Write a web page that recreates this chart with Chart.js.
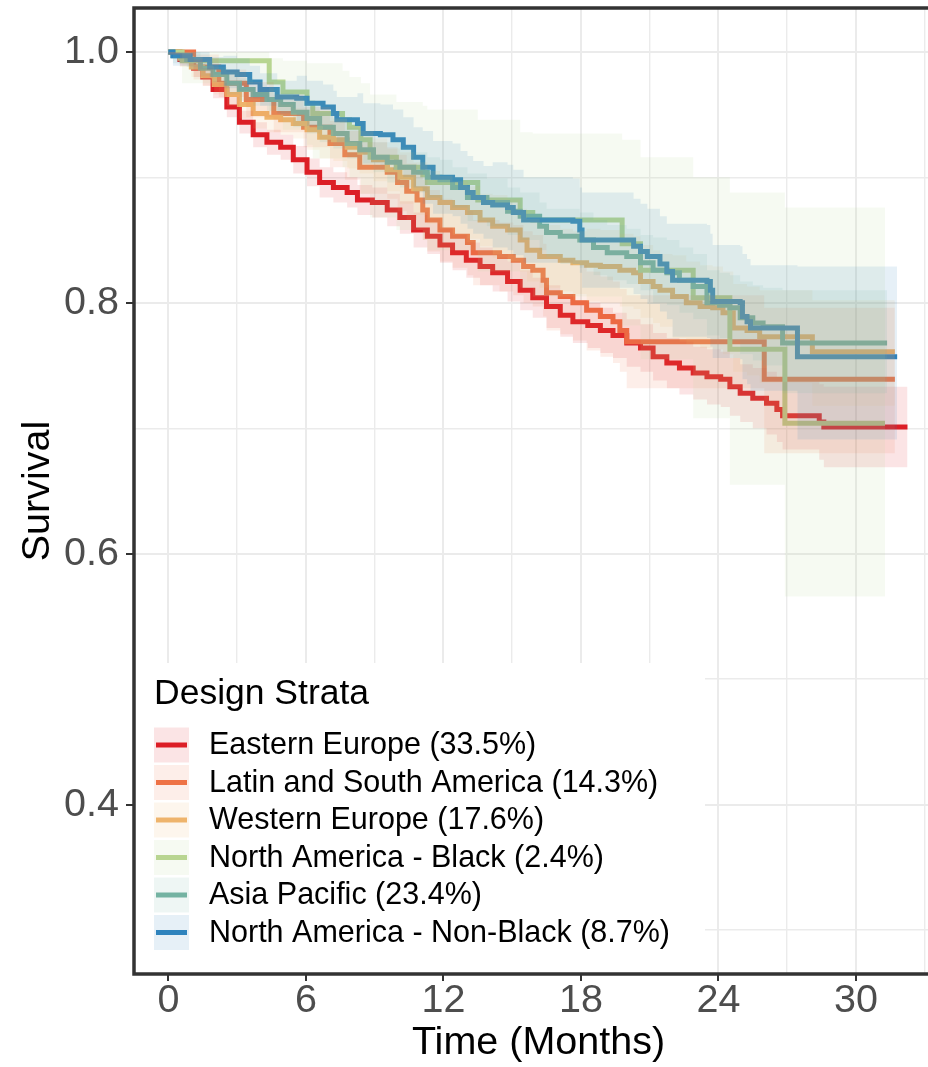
<!DOCTYPE html>
<html lang="en">
<head>
    <meta charset="UTF-8">
    <title>Survival by Design Strata</title>
    <script src="https://cdn.jsdelivr.net/npm/chart.js"></script>
    <style>
        html, body { margin: 0; padding: 0; background: #fff; overflow: hidden; }
        .wrap { width: 928px; height: 1067px; overflow: hidden; }
    </style>
</head>
<body>
    <div class="wrap">
        <canvas id="kmChart" width="943" height="1067"></canvas>
    </div>

    <script>
        // legend labels
        const strataNames = ['Eastern Europe', 'Latin and South America', 'Western Europe',
            'North America - Black', 'Asia Pacific', 'North America - Non-Black'];
        const strataShares = ['33.5', '14.3', '17.6', '2.4', '23.4', '8.7'];

        // axis ticks (labelled) and grid positions
        const xTicks = [0, 6, 12, 18, 24, 30];
        const xGrid = [0, 3, 6, 9, 12, 15, 18, 21, 24, 27, 30, 33];
        const yTicks = [0.4, 0.6, 0.8, 1.0];
        const yGrid = [0.3, 0.4, 0.5, 0.6, 0.7, 0.8, 0.9, 1.0];

        // Eastern Europe: time, survival, lower / upper confidence limits
        const eeT = [0, 0.5, 1.1, 1.5, 1.95, 2.55, 3.1, 3.7, 4.3, 4.9, 5.45, 6.05, 6.6, 7.2, 7.8, 8.25, 8.9, 9.55, 10.1, 10.7,
            11.3, 11.85, 12.4, 13.0, 13.6, 14.15, 14.8, 15.35, 15.9, 16.5, 17.1, 17.65, 18.3, 18.85, 19.4, 20.0, 20.6, 21.15,
            21.75, 22.3, 22.9, 23.5, 24.1, 24.5, 24.95, 25.5, 26.1, 26.55, 26.8, 28.4, 28.6, 32.25];
        const eeS = [1, 0.994, 0.987, 0.98, 0.97, 0.956, 0.944, 0.934, 0.928, 0.924, 0.914, 0.904, 0.896, 0.892, 0.888, 0.882,
            0.88, 0.874, 0.868, 0.858, 0.853, 0.846, 0.84, 0.834, 0.829, 0.824, 0.817, 0.81, 0.804, 0.797, 0.79, 0.785, 0.782,
            0.778, 0.774, 0.768, 0.764, 0.757, 0.752, 0.748, 0.744, 0.741, 0.739, 0.733, 0.728, 0.724, 0.72, 0.715, 0.71,
            0.705, 0.701, 0.701];
        const eeLow = [0.998, 0.989, 0.980, 0.973, 0.963, 0.948, 0.935, 0.924, 0.918, 0.914, 0.903, 0.893, 0.884, 0.880, 0.876,
            0.870, 0.868, 0.861, 0.855, 0.844, 0.839, 0.832, 0.826, 0.820, 0.814, 0.809, 0.801, 0.794, 0.788, 0.780, 0.773,
            0.768, 0.764, 0.760, 0.756, 0.749, 0.745, 0.738, 0.732, 0.727, 0.723, 0.719, 0.717, 0.710, 0.705, 0.700, 0.695,
            0.689, 0.683, 0.675, 0.669, 0.669];
        const eeHigh = [1, 0.999, 0.994, 0.987, 0.977, 0.964, 0.953, 0.944, 0.938, 0.934, 0.925, 0.915, 0.908, 0.904, 0.900,
            0.894, 0.892, 0.887, 0.881, 0.872, 0.867, 0.860, 0.854, 0.848, 0.844, 0.839, 0.833, 0.826, 0.820, 0.814, 0.807,
            0.802, 0.800, 0.796, 0.792, 0.787, 0.783, 0.776, 0.772, 0.769, 0.765, 0.763, 0.761, 0.756, 0.751, 0.748, 0.745,
            0.741, 0.737, 0.735, 0.733, 0.733];

        // Latin and South America
        const lsT = [0, 1.1, 2.2, 3.4, 4.6, 5.9, 7.05, 7.7, 8.35, 9.55, 10.0, 10.4, 10.85, 11.1, 11.3, 11.85, 12.4, 13.05, 13.3,
            14.45, 15.05, 15.5, 15.9, 16.35, 16.5, 17.1, 17.65, 18.25, 18.85, 19.4, 19.7, 20.0, 26.0, 31.7];
        const lsS = [1, 0.988, 0.975, 0.962, 0.951, 0.94, 0.927, 0.918, 0.908, 0.904, 0.896, 0.889, 0.882, 0.874, 0.866, 0.858,
            0.853, 0.848, 0.84, 0.837, 0.834, 0.829, 0.826, 0.818, 0.808, 0.805, 0.8, 0.794, 0.789, 0.785, 0.778, 0.769, 0.739, 0.739];
        const lsLow = [0.998, 0.978, 0.964, 0.948, 0.936, 0.924, 0.908, 0.898, 0.887, 0.883, 0.873, 0.866, 0.858, 0.850, 0.841,
            0.833, 0.828, 0.822, 0.814, 0.809, 0.806, 0.800, 0.797, 0.789, 0.778, 0.775, 0.770, 0.762, 0.757, 0.752, 0.745,
            0.732, 0.680, 0.680];
        const lsHigh = [1, 0.998, 0.986, 0.976, 0.966, 0.956, 0.945, 0.937, 0.928, 0.924, 0.918, 0.911, 0.905, 0.898, 0.890,
            0.883, 0.878, 0.873, 0.866, 0.864, 0.862, 0.857, 0.854, 0.847, 0.837, 0.834, 0.830, 0.825, 0.821, 0.817, 0.811,
            0.806, 0.796, 0.796];

        // Western Europe
        const weT = [0, 0.5, 1.0, 1.5, 2.0, 2.55, 3.1, 3.7, 4.3, 4.9, 5.45, 6.05, 6.6, 7.2, 7.8, 8.35, 8.95, 9.55, 10.1, 10.7,
            11.3, 11.85, 12.4, 13.05, 13.6, 14.15, 14.8, 15.35, 15.65, 16.2, 17.1, 17.65, 18.25, 18.85, 19.7, 20.3, 20.6, 21.15,
            21.45, 22.0, 22.6, 23.2, 23.75, 24.2, 24.65, 25.25, 25.8, 28.1, 31.7];
        const weS = [1, 0.995, 0.988, 0.981, 0.974, 0.966, 0.958, 0.951, 0.948, 0.946, 0.943, 0.938, 0.932, 0.93, 0.924, 0.92,
            0.914, 0.906, 0.9, 0.891, 0.884, 0.88, 0.876, 0.872, 0.866, 0.861, 0.858, 0.85, 0.842, 0.837, 0.834, 0.832, 0.83,
            0.829, 0.826, 0.824, 0.817, 0.813, 0.81, 0.805, 0.8, 0.797, 0.796, 0.792, 0.78, 0.778, 0.773, 0.761, 0.761];
        const weLow = [0.998, 0.988, 0.980, 0.973, 0.966, 0.957, 0.947, 0.939, 0.936, 0.934, 0.931, 0.922, 0.915, 0.913, 0.907,
            0.903, 0.897, 0.889, 0.879, 0.870, 0.863, 0.859, 0.855, 0.851, 0.845, 0.836, 0.833, 0.825, 0.817, 0.812, 0.809,
            0.807, 0.801, 0.800, 0.797, 0.795, 0.788, 0.784, 0.781, 0.772, 0.767, 0.764, 0.763, 0.759, 0.745, 0.742, 0.736,
            0.718, 0.718];
        const weHigh = [1, 1, 0.996, 0.989, 0.982, 0.975, 0.969, 0.963, 0.960, 0.958, 0.955, 0.954, 0.949, 0.947, 0.941, 0.937,
            0.931, 0.923, 0.920, 0.912, 0.905, 0.901, 0.897, 0.893, 0.887, 0.886, 0.883, 0.875, 0.867, 0.862, 0.859, 0.857,
            0.859, 0.858, 0.855, 0.853, 0.846, 0.842, 0.839, 0.838, 0.833, 0.830, 0.829, 0.825, 0.815, 0.813, 0.810, 0.802, 0.802];

        // North America - Black
        const nbT = [0, 0.6, 4.4, 5.0, 6.05, 6.3, 7.6, 7.9, 8.4, 8.8, 9.95, 11.1, 11.3, 13.5, 15.35, 15.9, 19.8, 20.6, 22.9,
            24.5, 26.9, 31.27];
        const nbS = [1, 0.993, 0.976, 0.968, 0.959, 0.951, 0.946, 0.94, 0.93, 0.916, 0.908, 0.902, 0.896, 0.882, 0.872, 0.866,
            0.847, 0.826, 0.804, 0.763, 0.704, 0.704];
        const nbLow = [1, 0.975, 0.950, 0.938, 0.926, 0.915, 0.908, 0.900, 0.887, 0.868, 0.858, 0.850, 0.842, 0.825, 0.812,
            0.805, 0.782, 0.755, 0.708, 0.655, 0.566, 0.566];
        const nbHigh = [1, 1, 0.995, 0.993, 0.991, 0.991, 0.985, 0.980, 0.975, 0.966, 0.960, 0.957, 0.954, 0.946, 0.936,
            0.935, 0.930, 0.916, 0.900, 0.888, 0.876, 0.876];

        // Asia Pacific
        const apT = [0, 0.2, 0.8, 1.4, 1.95, 2.55, 3.1, 3.7, 4.3, 4.9, 5.45, 6.05, 6.6, 7.2, 7.8, 8.35, 8.95, 9.55, 10.1, 10.7,
            11.3, 11.85, 12.4, 13.05, 13.9, 14.8, 15.35, 16.2, 16.5, 17.1, 17.95, 18.55, 19.15, 20.0, 20.6, 21.15, 21.75, 22.3,
            22.9, 23.5, 24.05, 24.5, 24.95, 25.5, 25.95, 26.8, 31.36];
        const apS = [1, 0.997, 0.994, 0.987, 0.982, 0.975, 0.97, 0.966, 0.962, 0.958, 0.952, 0.947, 0.94, 0.935, 0.927, 0.922,
            0.916, 0.912, 0.908, 0.904, 0.9, 0.898, 0.892, 0.884, 0.88, 0.873, 0.869, 0.861, 0.856, 0.853, 0.85, 0.844, 0.84,
            0.837, 0.832, 0.826, 0.824, 0.818, 0.813, 0.8, 0.798, 0.796, 0.788, 0.784, 0.781, 0.768, 0.768];
        const apLow = [0.998, 0.991, 0.988, 0.981, 0.976, 0.966, 0.961, 0.957, 0.953, 0.949, 0.940, 0.935, 0.928, 0.923, 0.915,
            0.910, 0.904, 0.896, 0.892, 0.888, 0.884, 0.882, 0.876, 0.865, 0.861, 0.854, 0.850, 0.842, 0.837, 0.831, 0.828,
            0.822, 0.818, 0.815, 0.810, 0.800, 0.798, 0.792, 0.787, 0.774, 0.772, 0.770, 0.759, 0.754, 0.750, 0.728, 0.728];
        const apHigh = [1, 1, 1, 0.993, 0.988, 0.984, 0.979, 0.975, 0.971, 0.967, 0.964, 0.959, 0.952, 0.947, 0.939, 0.934,
            0.928, 0.928, 0.924, 0.920, 0.916, 0.914, 0.908, 0.903, 0.899, 0.892, 0.888, 0.880, 0.875, 0.875, 0.872, 0.866,
            0.862, 0.859, 0.854, 0.852, 0.850, 0.844, 0.839, 0.826, 0.824, 0.822, 0.817, 0.814, 0.812, 0.810, 0.810];

        // North America - Non-Black
        const nnT = [0, 0.2, 0.95, 1.8, 2.4, 3.0, 3.55, 4.0, 4.75, 5.6, 6.05, 6.75, 7.2, 7.35, 8.25, 8.5, 9.25, 9.8, 10.25, 10.7,
            11.1, 11.55, 12.4, 12.75, 13.05, 13.3, 13.75, 14.15, 14.8, 15.05, 15.5, 17.65, 17.95, 18.05, 20.3, 20.6, 20.9, 21.45,
            21.75, 22.0, 23.5, 23.65, 23.75, 24.95, 25.05, 25.25, 25.4, 27.45, 31.8];
        const nnS = [1, 0.997, 0.994, 0.988, 0.984, 0.982, 0.976, 0.97, 0.964, 0.963, 0.959, 0.956, 0.951, 0.946, 0.943, 0.935,
            0.934, 0.93, 0.924, 0.916, 0.908, 0.9, 0.898, 0.892, 0.888, 0.884, 0.88, 0.878, 0.876, 0.872, 0.866, 0.865, 0.858,
            0.85, 0.845, 0.841, 0.837, 0.831, 0.825, 0.818, 0.817, 0.81, 0.801, 0.8, 0.789, 0.785, 0.78, 0.757, 0.757];
        const nnLow = [0.998, 0.989, 0.986, 0.980, 0.971, 0.969, 0.963, 0.957, 0.951, 0.945, 0.941, 0.938, 0.933, 0.928, 0.919,
            0.911, 0.910, 0.906, 0.900, 0.892, 0.879, 0.871, 0.869, 0.863, 0.859, 0.855, 0.851, 0.844, 0.842, 0.838, 0.832,
            0.831, 0.824, 0.812, 0.807, 0.803, 0.799, 0.793, 0.787, 0.773, 0.772, 0.765, 0.756, 0.755, 0.739, 0.735, 0.730,
            0.691, 0.691];
        const nnHigh = [1, 1, 1, 0.996, 0.997, 0.995, 0.989, 0.983, 0.977, 0.981, 0.977, 0.974, 0.969, 0.964, 0.967, 0.959,
            0.958, 0.954, 0.948, 0.940, 0.937, 0.929, 0.927, 0.921, 0.917, 0.913, 0.909, 0.912, 0.910, 0.906, 0.900, 0.899,
            0.892, 0.888, 0.883, 0.879, 0.875, 0.869, 0.863, 0.863, 0.862, 0.855, 0.846, 0.845, 0.839, 0.835, 0.830, 0.829, 0.829];

        const lineColors = ['rgb(220,30,38)', 'rgb(238,114,70)', 'rgb(238,180,108)', 'rgb(184,213,145)', 'rgb(116,179,162)', 'rgb(46,131,189)'];
        const bandColors = lineColors.map(c => c.replace('rgb', 'rgba').replace(')', ',0.12)'));

        const series = [
            { t: eeT, s: eeS, lo: eeLow, hi: eeHigh },
            { t: lsT, s: lsS, lo: lsLow, hi: lsHigh },
            { t: weT, s: weS, lo: weLow, hi: weHigh },
            { t: nbT, s: nbS, lo: nbLow, hi: nbHigh },
            { t: apT, s: apS, lo: apLow, hi: apHigh },
            { t: nnT, s: nnS, lo: nnLow, hi: nnHigh }
        ];

        const pts = (xs, ys) => xs.map((x, k) => ({ x: x, y: ys[k] }));

        const datasets = [];
        // survival curves first, ribbons after (ribbons are drawn over the lines)
        series.forEach((s, i) => {
            datasets.push({
                label: strataNames[i],
                data: pts(s.t, s.s),
                stepped: 'before',
                borderColor: lineColors[i],
                borderWidth: 5,
                borderCapStyle: 'butt',
                fill: false,
                order: 20 - i
            });
        });
        series.forEach((s, i) => {
            datasets.push({
                label: strataNames[i] + ' lower',
                data: pts(s.t, s.lo),
                stepped: 'before',
                borderWidth: 0,
                borderColor: 'rgba(0,0,0,0)',
                fill: false,
                order: 10 - i
            });
            datasets.push({
                label: strataNames[i] + ' upper',
                data: pts(s.t, s.hi),
                stepped: 'before',
                borderWidth: 0,
                borderColor: 'rgba(0,0,0,0)',
                backgroundColor: bandColors[i],
                fill: '-1',
                order: 10 - i
            });
        });

        const FONT = '"Liberation Sans", Arial, sans-serif';
        Chart.defaults.font.family = FONT;

        // legend box drawn inside the panel, and the panel border
        const strataLegend = {
            id: 'strataLegend',
            beforeDatasetsDraw(chart) {
                const { ctx, chartArea } = chart;
                ctx.save();
                ctx.fillStyle = '#ffffff';
                ctx.fillRect(chartArea.left, 663, 705 - chartArea.left, chartArea.bottom - 663);
                ctx.textBaseline = 'middle';
                ctx.textAlign = 'left';
                ctx.fillStyle = '#000000';
                ctx.font = '35.5px ' + FONT;
                ctx.fillText('Design Strata', 154, 694);
                ctx.font = '30.5px ' + FONT;
                strataNames.forEach((name, i) => {
                    const cy = 745 + i * 37.5;
                    ctx.fillStyle = bandColors[i];
                    ctx.fillRect(154, cy - 17.5, 35, 35);
                    ctx.strokeStyle = lineColors[i];
                    ctx.lineWidth = 5;
                    ctx.beginPath();
                    ctx.moveTo(156, cy);
                    ctx.lineTo(187, cy);
                    ctx.stroke();
                    ctx.fillStyle = '#000000';
                    ctx.fillText(name + ' (' + strataShares[i] + '%)', 209, cy + 1);
                });
                ctx.restore();
            },
            afterDraw(chart) {
                const { ctx, chartArea: a } = chart;
                ctx.save();
                ctx.strokeStyle = '#333333';
                ctx.lineWidth = 3.5;
                ctx.strokeRect(a.left, a.top, a.right - a.left, a.bottom - a.top);
                ctx.restore();
            }
        };

        new Chart(document.getElementById('kmChart').getContext('2d'), {
            type: 'line',
            data: { datasets: datasets },
            options: {
                responsive: false,
                animation: false,
                devicePixelRatio: 1,
                layout: { padding: { top: 8, left: 0, right: 0, bottom: 0 } },
                elements: { point: { radius: 0 }, line: { tension: 0 } },
                plugins: {
                    legend: { display: false },
                    tooltip: { enabled: false },
                    filler: { drawTime: 'beforeDatasetDraw' }
                },
                scales: {
                    x: {
                        type: 'linear',
                        min: -1.5,
                        max: 33.8,
                        afterBuildTicks: scale => { scale.ticks = xGrid.map(v => ({ value: v })); },
                        afterFit: scale => { scale.height = 93; scale.paddingLeft = 0; scale.paddingRight = 0; },
                        border: { display: false },
                        grid: {
                            color: '#EBEBEB',
                            lineWidth: c => (c.tick && xTicks.includes(c.tick.value)) ? 2 : 1.4,
                            tickLength: 7,
                            tickWidth: 2,
                            tickColor: c => (c.tick && xTicks.includes(c.tick.value)) ? '#333333' : 'rgba(0,0,0,0)'
                        },
                        ticks: {
                            autoSkip: false,
                            maxRotation: 0,
                            padding: 0,
                            color: '#4D4D4D',
                            font: { size: 39.5, lineHeight: 1 },
                            callback: v => xTicks.includes(v) ? String(v) : ''
                        },
                        title: {
                            display: true,
                            text: 'Time (Months)',
                            color: '#000000',
                            font: { size: 39.5, lineHeight: 1.2 },
                            padding: 0
                        }
                    },
                    y: {
                        min: 0.265,
                        max: 1.035,
                        afterBuildTicks: scale => { scale.ticks = yGrid.map(v => ({ value: v })); },
                        afterFit: scale => { scale.width = 134; scale.paddingTop = 0; scale.paddingBottom = 0; },
                        border: { display: false },
                        grid: {
                            color: '#EBEBEB',
                            lineWidth: c => (c.tick && yTicks.includes(c.tick.value)) ? 2 : 1.4,
                            tickLength: 8,
                            tickWidth: 2,
                            tickColor: c => (c.tick && yTicks.includes(c.tick.value)) ? '#333333' : 'rgba(0,0,0,0)'
                        },
                        ticks: {
                            autoSkip: false,
                            padding: 7,
                            color: '#4D4D4D',
                            font: { size: 39.5, lineHeight: 1 },
                            callback: v => yTicks.includes(v) ? v.toFixed(1) : ''
                        },
                        title: {
                            display: true,
                            text: 'Survival',
                            color: '#000000',
                            font: { size: 39.5, lineHeight: 1.2 },
                            padding: { top: 14, bottom: 0 }
                        }
                    }
                }
            },
            plugins: [strataLegend]
        });
    </script>
</body>
</html>
